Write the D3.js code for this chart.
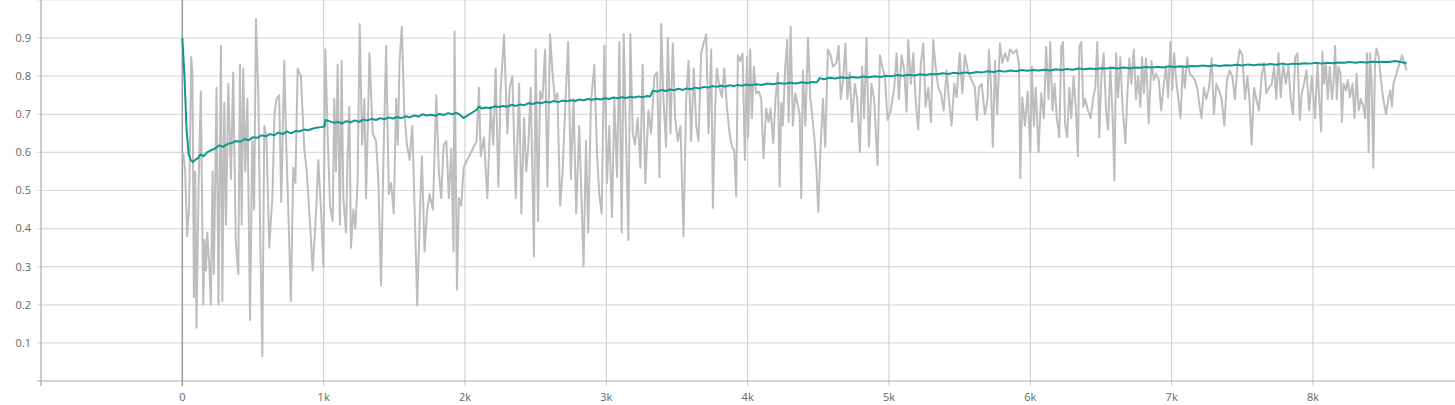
<!DOCTYPE html>
<html><head><meta charset="utf-8">
<script src="https://cdn.jsdelivr.net/npm/d3@7"></script>
<style>html,body{margin:0;padding:0;background:#fff;}svg{display:block;font-family:"Open Sans",Roboto,sans-serif;}</style>
</head><body><svg id="chart" width="1455" height="405"></svg>
<script>
const xTickValues=[-1000,0,1000,2000,3000,4000,5000,6000,7000,8000];
const xTickLabels=["","0","1k","2k","3k","4k","5k","6k","7k","8k"];
const yTickValues=[0.1,0.2,0.3,0.4,0.5,0.6,0.7,0.8,0.9,1.0];
const yTickLabels=["0.1","0.2","0.3","0.4","0.5","0.6","0.7","0.8","0.9",""];

const rawSteps=[6,20,34,48,63,72,82,91,100,115,131,148,157,167,176,190,202,214,223,242,256,273,283,297,309,325,344,360,378,396,408,420,431,445,460,479,495,508,521,538,552,566,580,595,615,638,652,666,685,700,721,737,752,768,785,800,816,839,863,880,894,909,922,946,962,981,998,
1012,1028,1045,1064,1075,1087,1099,1115,1127,1139,1158,1170,1182,1193,1210,1224,1240,1255,1272,1288,1300,1312,1324,1347,1371,1388,1406,1423,1442,1461,1477,1496,1513,1525,1537,1553,1570,1589,1608,1627,1643,1662,1679,1695,1714,1731,1749,1773,1797,1815,1832,1849,1868,1886,1903,1919,1926,1943,1957,1974,1990,
2082,2099,2111,2134,2158,2182,2200,2217,2236,2252,2276,2300,2316,2335,2359,2383,2399,2418,2433,2447,2465,2488,2500,2517,2531,2548,2567,2583,2602,2619,2636,2654,2673,2690,2714,2730,2749,2768,2787,2808,2825,2839,2856,2872,2891,2915,2934,2950,2967,2986,3005,
3021,3040,3057,3076,3092,3109,3123,3139,3156,3170,3187,3203,3222,3241,3257,3276,3298,3317,3340,3359,3376,3388,3404,3423,3435,3454,3470,3487,3506,3525,3546,3565,3582,3600,3619,3636,3652,3671,3688,3707,3723,3742,3754,3770,3782,3801,3818,3835,3853,3872,3889,3905,3919,3931,3948,3964,3981,3995,4004,4018,
4030,4044,4060,4079,4096,4112,4131,4148,4162,4181,4197,4214,4226,4238,4249,4266,4280,4290,4304,4320,4337,4351,4368,4379,4391,4408,4427,4443,4460,4474,4486,4500,4516,4533,4549,4568,4587,4604,4628,4644,4659,4675,4692,4706,4722,4739,4758,4775,4794,4810,4824,4841,4858,4876,4895,4919,4936,4952,4971,4990,
5013,5037,5054,5070,5089,5108,5125,5136,5155,5172,5188,5207,5226,5243,5259,5278,5297,5313,5330,5349,5368,5387,5408,5424,5443,5462,5479,5500,5519,5537,5561,5608,5622,5637,5655,5679,5698,5707,5721,5735,5750,5766,5785,5802,5821,5840,5856,5880,5903,5920,5929,5943,5962,5981,6000,
6011,6025,6039,6058,6077,6096,6112,6129,6141,6157,6172,6188,6205,6219,6231,6247,6261,6276,6290,6306,6323,6337,6347,6361,6375,6389,6408,6427,6446,6460,6474,6488,6503,6519,6536,6550,6566,6583,6595,6607,6621,6637,6654,6673,6687,6701,6715,6732,6748,6763,6779,6791,6803,6819,6838,6857,6874,6890,6909,6926,6945,6961,6975,6992,
7004,7018,7032,7046,7063,7079,7094,7110,7127,7146,7164,7181,7198,7212,7228,7245,7264,7283,7299,7316,7335,7354,7373,7391,7410,7429,7448,7465,7481,7500,7519,7536,7552,7566,7583,7599,7618,7637,7654,7670,7689,7708,7725,7741,7756,7772,7789,7808,7826,7843,7859,7874,7890,7907,7921,7937,7954,7973,7992,
8015,8032,8044,8058,8067,8079,8091,8105,8119,8134,8145,8157,8169,8181,8195,8205,8216,8233,8247,8261,8280,8294,8309,8323,8339,8356,8370,8382,8394,8403,8415,8427,8439,8450,8465,8481,8498,8517,8535,8547,8559,8569,8630,8663];

const rawValues=[0.60,0.55,0.38,0.46,0.85,0.80,0.22,0.55,0.14,0.51,0.76,0.20,0.37,0.29,0.39,0.31,0.20,0.55,0.28,0.77,0.20,0.88,0.21,0.73,0.41,0.78,0.53,0.81,0.37,0.28,0.83,0.41,0.82,0.55,0.74,0.16,0.63,0.45,0.95,0.75,0.36,0.065,0.67,0.64,0.35,0.49,0.70,0.74,0.75,0.47,0.84,0.60,0.42,0.21,0.56,0.52,0.82,0.80,0.61,0.55,0.47,0.38,0.29,0.44,0.58,0.45,0.30,
0.87,0.65,0.46,0.42,0.74,0.55,0.83,0.41,0.84,0.48,0.39,0.60,0.72,0.35,0.45,0.40,0.52,0.937,0.62,0.74,0.48,0.66,0.86,0.65,0.63,0.52,0.25,0.58,0.88,0.49,0.52,0.44,0.74,0.62,0.84,0.93,0.71,0.62,0.58,0.67,0.46,0.198,0.42,0.59,0.34,0.44,0.49,0.45,0.75,0.55,0.48,0.62,0.63,0.48,0.61,0.34,0.917,0.24,0.48,0.46,0.56,
0.63,0.77,0.59,0.64,0.48,0.72,0.62,0.82,0.51,0.76,0.908,0.65,0.77,0.80,0.48,0.78,0.44,0.69,0.55,0.61,0.77,0.327,0.87,0.42,0.76,0.74,0.87,0.51,0.91,0.81,0.74,0.755,0.46,0.545,0.76,0.89,0.53,0.74,0.44,0.67,0.475,0.30,0.63,0.39,0.73,0.83,0.60,0.49,0.44,0.88,0.52,
0.67,0.43,0.74,0.535,0.89,0.39,0.91,0.65,0.37,0.91,0.65,0.62,0.69,0.56,0.83,0.52,0.71,0.65,0.80,0.81,0.535,0.937,0.74,0.615,0.90,0.65,0.886,0.69,0.63,0.67,0.38,0.74,0.84,0.63,0.82,0.67,0.63,0.86,0.886,0.91,0.65,0.87,0.455,0.72,0.82,0.77,0.745,0.82,0.72,0.65,0.615,0.606,0.485,0.855,0.84,0.86,0.58,0.85,0.64,0.87,
0.69,0.825,0.755,0.76,0.74,0.585,0.715,0.68,0.715,0.625,0.74,0.81,0.51,0.73,0.67,0.825,0.895,0.68,0.93,0.67,0.755,0.73,0.70,0.48,0.815,0.67,0.90,0.745,0.685,0.63,0.56,0.444,0.615,0.74,0.615,0.87,0.855,0.825,0.835,0.88,0.74,0.79,0.886,0.74,0.81,0.68,0.78,0.74,0.60,0.825,0.69,0.90,0.615,0.78,0.74,0.567,0.855,0.825,0.80,0.685,
0.71,0.77,0.86,0.74,0.855,0.815,0.707,0.895,0.78,0.86,0.74,0.66,0.835,0.886,0.72,0.77,0.68,0.895,0.825,0.77,0.755,0.71,0.815,0.74,0.67,0.78,0.745,0.86,0.755,0.855,0.81,0.77,0.685,0.77,0.78,0.70,0.74,0.87,0.78,0.615,0.84,0.70,0.886,0.835,0.86,0.84,0.87,0.86,0.87,0.83,0.533,0.745,0.67,0.76,0.60,
0.825,0.67,0.77,0.60,0.755,0.69,0.877,0.74,0.89,0.71,0.78,0.69,0.64,0.877,0.89,0.67,0.64,0.77,0.69,0.80,0.71,0.59,0.877,0.89,0.72,0.74,0.71,0.69,0.745,0.77,0.89,0.64,0.80,0.86,0.71,0.66,0.825,0.69,0.526,0.86,0.745,0.85,0.71,0.624,0.755,0.847,0.78,0.87,0.74,0.80,0.72,0.85,0.755,0.847,0.676,0.84,0.79,0.807,0.79,0.71,0.78,0.825,0.745,0.89,
0.763,0.86,0.79,0.745,0.69,0.825,0.77,0.85,0.807,0.80,0.79,0.77,0.72,0.69,0.77,0.74,0.77,0.847,0.70,0.78,0.763,0.74,0.67,0.79,0.815,0.80,0.74,0.825,0.87,0.855,0.74,0.80,0.73,0.62,0.77,0.74,0.71,0.80,0.835,0.755,0.77,0.78,0.825,0.74,0.86,0.745,0.835,0.78,0.825,0.74,0.70,0.85,0.86,0.685,0.755,0.78,0.815,0.71,0.80,
0.69,0.835,0.74,0.655,0.865,0.78,0.835,0.74,0.825,0.74,0.78,0.88,0.74,0.825,0.807,0.68,0.78,0.763,0.79,0.745,0.78,0.69,0.807,0.71,0.74,0.72,0.69,0.86,0.60,0.86,0.78,0.56,0.84,0.873,0.85,0.79,0.74,0.70,0.745,0.763,0.72,0.78,0.855,0.815];

const smoothSteps=[0,15,30,45,60,75,90,110,130,150,175,200,230,260,290,320,350,380,410,440,470,500,530,560,590,620,650,680,710,740,770,800,830,860,890,920,950,990,1005,1012,1040,1070,1100,1130,1160,1190,1220,1250,1280,1310,1340,1370,1400,1430,1460,1490,1520,1550,1580,1610,1640,1670,1700,1730,1760,1790,1820,1850,1880,1910,1940,1960,1990,
2082,2100,2120,2150,2180,2210,2240,2270,2300,2330,2360,2390,2420,2450,2480,2510,2540,2570,2600,2630,2660,2690,2720,2750,2780,2810,2840,2870,2900,2930,2960,2990,3020,3050,3080,3110,3140,3170,3200,3230,3260,3290,3310,3330,3360,3390,3420,3450,3480,3510,3540,3570,3600,3630,3660,3690,3720,3750,3780,3810,3840,3870,3900,3930,3960,3990,
4020,4060,4100,4140,4180,4220,4260,4300,4340,4380,4420,4460,4490,4510,4540,4580,4620,4660,4700,4740,4780,4820,4860,4900,4940,4980,5020,5060,5100,5140,5180,5220,5260,5300,5340,5380,5420,5460,5500,5540,5580,5620,5660,5700,5740,5780,5820,5860,5900,5940,5980,
6020,6060,6100,6140,6180,6220,6260,6300,6340,6380,6420,6460,6500,6540,6580,6620,6660,6700,6740,6780,6820,6860,6900,6940,6980,7020,7060,7100,7140,7180,7220,7260,7300,7340,7380,7420,7460,7500,7540,7580,7620,7660,7700,7740,7780,7820,7860,7900,7940,7980,
8020,8060,8100,8140,8180,8220,8260,8300,8340,8380,8420,8460,8500,8540,8580,8620,8663];

const smoothValues=[0.90,0.80,0.66,0.595,0.58,0.575,0.58,0.585,0.595,0.59,0.60,0.605,0.61,0.618,0.615,0.622,0.625,0.63,0.628,0.635,0.632,0.64,0.638,0.645,0.642,0.648,0.645,0.652,0.648,0.655,0.65,0.656,0.655,0.66,0.658,0.662,0.665,0.667,0.668,0.685,0.682,0.678,0.68,0.676,0.682,0.679,0.684,0.68,0.686,0.684,0.688,0.685,0.69,0.687,0.692,0.689,0.693,0.69,0.695,0.692,0.697,0.694,0.70,0.697,0.699,0.696,0.701,0.698,0.703,0.70,0.704,0.70,0.69,
0.712,0.72,0.715,0.718,0.716,0.721,0.719,0.722,0.72,0.725,0.722,0.726,0.724,0.729,0.727,0.731,0.729,0.733,0.731,0.735,0.732,0.736,0.734,0.737,0.735,0.739,0.737,0.74,0.738,0.741,0.739,0.742,0.74,0.744,0.742,0.745,0.743,0.746,0.744,0.747,0.745,0.748,0.747,0.762,0.76,0.764,0.761,0.765,0.763,0.767,0.764,0.768,0.766,0.77,0.768,0.772,0.77,0.774,0.772,0.775,0.773,0.776,0.774,0.777,0.775,0.778,
0.776,0.779,0.777,0.781,0.779,0.782,0.78,0.783,0.781,0.784,0.782,0.785,0.784,0.795,0.792,0.796,0.794,0.797,0.795,0.798,0.796,0.799,0.797,0.80,0.798,0.801,0.80,0.803,0.801,0.804,0.802,0.805,0.803,0.806,0.805,0.808,0.806,0.809,0.807,0.81,0.808,0.811,0.81,0.813,0.811,0.814,0.812,0.815,0.813,0.816,0.814,
0.816,0.815,0.817,0.815,0.818,0.816,0.819,0.817,0.82,0.818,0.82,0.819,0.821,0.82,0.822,0.82,0.823,0.821,0.823,0.822,0.824,0.823,0.825,0.823,0.826,0.824,0.826,0.825,0.827,0.826,0.828,0.826,0.829,0.827,0.829,0.828,0.83,0.828,0.831,0.829,0.831,0.83,0.832,0.83,0.833,0.831,0.833,0.832,0.834,0.833,
0.835,0.833,0.835,0.834,0.836,0.835,0.837,0.835,0.837,0.836,0.838,0.837,0.838,0.837,0.84,0.837,0.834];

const svg=d3.select("#chart");
const x=d3.scaleLinear().domain([-1000,9005]).range([41,1455]);
const y=d3.scaleLinear().domain([0,1]).range([381,0]);

// horizontal grid
svg.append("g").selectAll("line").data(yTickValues).join("line")
  .attr("x1",37).attr("x2",1455).attr("y1",d=>y(d)).attr("y2",d=>y(d))
  .attr("stroke","#dcdcdc").attr("stroke-width",1.2);
// vertical grid
svg.append("g").selectAll("line").data(xTickValues.filter(d=>d>0)).join("line")
  .attr("x1",d=>x(d)).attr("x2",d=>x(d)).attr("y1",0).attr("y2",386)
  .attr("stroke","#d2d2d2").attr("stroke-width",1.2);
// zero line
svg.append("line").attr("x1",x(0)).attr("x2",x(0)).attr("y1",0).attr("y2",386)
  .attr("stroke","#9a9a9a").attr("stroke-width",1.5);
// axes lines
svg.append("line").attr("x1",41).attr("x2",41).attr("y1",0).attr("y2",386).attr("stroke","#aaaaaa").attr("stroke-width",1.2);
svg.append("line").attr("x1",37).attr("x2",1455).attr("y1",381).attr("y2",381).attr("stroke","#aaaaaa").attr("stroke-width",1.2);

// labels
svg.append("g").selectAll("text").data(yTickValues).join("text")
  .attr("x",31).attr("y",d=>y(d)).attr("dy","0.35em").attr("text-anchor","end")
  .attr("font-size","11px").attr("fill","#666").text((d,i)=>yTickLabels[i]);
svg.append("g").selectAll("text").data(xTickValues).join("text")
  .attr("x",d=>x(d)).attr("y",397).attr("dy","0.35em").attr("text-anchor","middle")
  .attr("font-size","11px").attr("fill","#666").text((d,i)=>xTickLabels[i]);

const raw=rawSteps.map((s,i)=>[s,rawValues[i]]);
const smooth=smoothSteps.map((s,i)=>[s,smoothValues[i]]);
const line=d3.line().x(d=>x(d[0])).y(d=>y(d[1]));
svg.append("path").attr("d",line(raw)).attr("fill","none").attr("stroke","#bdbdbd")
  .attr("stroke-width",2).attr("stroke-linejoin","round");
svg.append("path").attr("d",line(smooth)).attr("fill","none").attr("stroke","#12988a")
  .attr("stroke-width",2).attr("stroke-linejoin","round");
</script></body></html>
